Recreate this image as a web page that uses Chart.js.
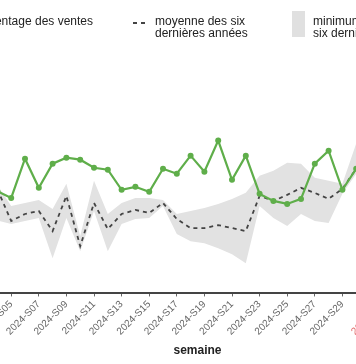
<!DOCTYPE html>
<html>
<head>
<meta charset="utf-8">
<script src="https://cdn.jsdelivr.net/npm/chart.js@4/dist/chart.umd.min.js"></script>
<style>
  html, body { margin: 0; padding: 0; background: #fff; overflow: hidden; width: 356px; height: 364px; }
  #wrap { position: absolute; left: -150px; top: 0; width: 700px; height: 364px; }
  .lg { position: absolute; font-family: "Liberation Sans", Arial, sans-serif; font-size: 12px; line-height: 12px; color: #222; white-space: nowrap; }
</style>
</head>
<body>
<div id="wrap"><canvas id="c" width="700" height="364"></canvas></div>
<div class="lg" style="top:15px; right:263px;">pourcentage des ventes</div>
<svg style="position:absolute; left:-30px; top:15px;" width="24" height="14"><line x1="0" y1="7" x2="24" y2="7" stroke="#5fae4a" stroke-width="2"/><circle cx="12" cy="7" r="2.5" fill="#5fae4a"/></svg>
<svg style="position:absolute; left:133px; top:19px;" width="15" height="8"><line x1="0" y1="4" x2="15" y2="4" stroke="#444" stroke-width="1.8" stroke-dasharray="4,4"/></svg>
<div class="lg" style="top:15px; left:155px;">moyenne des six<br>dernières années</div>
<div style="position:absolute; left:292px; top:11px; width:13px; height:26px; background:#e0e0e0;"></div>
<div class="lg" style="top:15px; left:313px;">minimum et maximum des<br>six dernières années</div>
<script>
// categories: weeks 2024-S01 .. 2024-S36
const weeks = ["2024-S01","2024-S02","2024-S03","2024-S04","2024-S05","2024-S06","2024-S07","2024-S08","2024-S09","2024-S10",
  "2024-S11","2024-S12","2024-S13","2024-S14","2024-S15","2024-S16","2024-S17","2024-S18","2024-S19","2024-S20",
  "2024-S21","2024-S22","2024-S23","2024-S24","2024-S25","2024-S26","2024-S27","2024-S28","2024-S29","2024-S30",
  "2024-S31","2024-S32","2024-S33","2024-S34","2024-S35","2024-S36"];
// labelled ticks on the axis
const tickWeeks = ["2024-S01","2024-S03","2024-S05","2024-S07","2024-S09","2024-S11","2024-S13","2024-S15","2024-S17",
  "2024-S19","2024-S21","2024-S23","2024-S25","2024-S27","2024-S29","2024-S32","2024-S34","2024-S36"];
const highlightWeek = "2024-S32";

// values (visible range S04..S30), null where not visible in the picture
const share = [null,null,null,20.3,19.0,26.8,21.0,25.8,27.0,26.6,25.0,24.6,20.6,21.2,20.2,24.8,23.8,27.4,24.2,30.4,
  22.6,27.4,19.8,18.4,17.8,18.8,25.8,28.4,20.6,24.8,null,null,null,null,null,null];
const mean6 = [null,null,null,20.7,14.4,15.8,16.4,12.4,19.4,9.4,18.0,12.8,15.8,16.6,16.0,18.0,14.8,13.0,13.0,13.6,
  13.0,12.4,19.4,18.4,19.6,21.0,20.0,18.8,20.8,24.8,null,null,null,null,null,null];
const max6 = [null,null,null,21.5,17.4,18.0,18.6,16.8,21.8,11.4,22.4,15.8,18.0,19.0,19.0,18.6,15.8,16.4,17.0,17.8,
  18.8,20.0,23.4,24.4,26.0,25.8,23.0,22.4,21.8,29.8,null,null,null,null,null,null];
const min6 = [null,null,null,14.5,13.8,14.4,15.0,7.0,15.0,8.4,16.4,8.4,13.8,14.8,15.0,17.4,11.8,10.4,10.0,9.0,
  7.8,6.0,17.4,15.0,13.4,15.8,14.4,14.0,19.8,23.8,null,null,null,null,null,null];

const green = '#5fae4a';
new Chart(document.getElementById('c'), {
  type: 'line',
  data: {
    labels: weeks,
    datasets: [
      { label: 'pourcentage des ventes', data: share, borderColor: green, backgroundColor: green,
        borderWidth: 2.2, pointRadius: 3, pointBackgroundColor: green, pointBorderWidth: 0, tension: 0, fill: false },
      { label: 'moyenne des six dernières années', data: mean6, borderColor: '#444', borderWidth: 1.8,
        borderDash: [4, 4], pointRadius: 0, tension: 0, fill: false },
      { label: 'maximum', data: max6, borderWidth: 0, borderColor: 'rgba(0,0,0,0)', backgroundColor: '#e2e2e2',
        pointRadius: 0, tension: 0, fill: '+1' },
      { label: 'minimum', data: min6, borderWidth: 0, borderColor: 'rgba(0,0,0,0)', backgroundColor: '#e2e2e2',
        pointRadius: 0, tension: 0, fill: false }
    ]
  },
  options: {
    responsive: false,
    animation: false,
    spanGaps: false,
    layout: { padding: { left: 106, right: 111, top: 42, bottom: 2 } },
    plugins: { legend: { display: false }, tooltip: { enabled: false } },
    scales: {
      y: { display: false, min: 0, max: 50 },
      x: {
        border: { display: true, color: '#444', width: 2 },
        grid: { display: true, drawOnChartArea: false, drawTicks: true, tickLength: 3, color: '#666' },
        ticks: {
          autoSkip: false, maxRotation: 45, minRotation: 45, padding: 2,
          font: { family: '"Liberation Sans", Arial, sans-serif', size: 10 },
          color: (ctx) => (ctx.tick && ctx.tick.label === highlightWeek) ? '#e06868' : '#666',
          callback: function (v, i) { return tickWeeks.includes(weeks[i]) ? weeks[i] : null; }
        },
        title: { display: true, text: 'semaine', color: '#222',
          font: { family: '"Liberation Sans", Arial, sans-serif', size: 12, weight: 'bold' } }
      }
    }
  }
});
</script>
</body>
</html>
